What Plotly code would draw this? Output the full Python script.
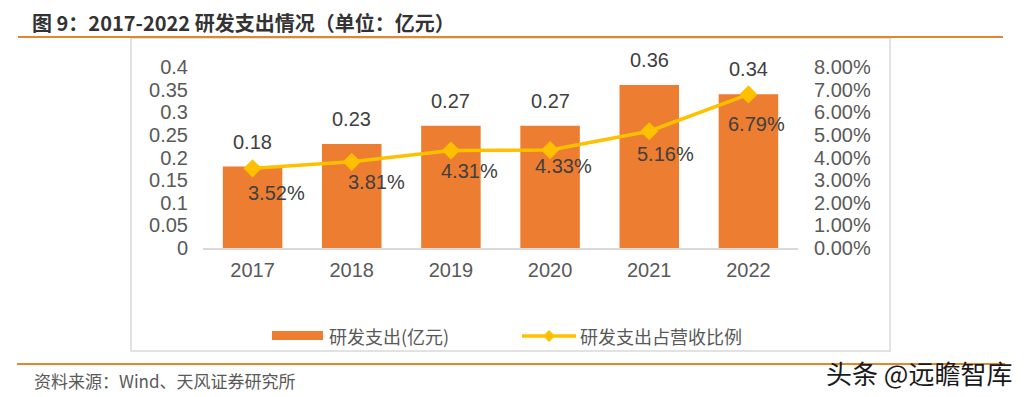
import plotly.graph_objects as go

# ---------------- data ----------------
years = ["2017", "2018", "2019", "2020", "2021", "2022"]
rd_spend = [0.18, 0.23, 0.27, 0.27, 0.36, 0.34]          # 亿元
rd_ratio = [0.0352, 0.0381, 0.0431, 0.0433, 0.0516, 0.0679]  # 占营收比例
bar_labels = ["0.18", "0.23", "0.27", "0.27", "0.36", "0.34"]
ratio_labels = ["3.52%", "3.81%", "4.31%", "4.33%", "5.16%", "6.79%"]

# label offsets (pixels) for the percentage labels, as placed in the reference
ratio_dx = [24, 25, 19, 13, 16, 8]
ratio_dy = [25, 20, 21, 16, 23, 30]

title_text = "图 9：2017-2022 研发支出情况（单位：亿元）"
legend_bar = "研发支出(亿元)"
legend_line = "研发支出占营收比例"
source_text = "资料来源：Wind、天风证券研究所"
watermark = "头条 @远瞻智库"

# ---------------- layout geometry ----------------
PAGE_OFF = 8                    # default body margin of the html page
W, H = 1025 - PAGE_OFF, 397 - PAGE_OFF
L, R, T, B = 203, 798, 67, 248  # plot area in page pixels


def px(x):
    return (x - L) / (R - L)


def py(y):
    return (B - y) / (B - T)


BAR = "#ED7D31"
LINE = "#FFC000"
TICK = "#595959"
LAB = "#404040"
NUMFONT = "Liberation Sans, Arial, sans-serif"
CJK = "Noto Sans CJK SC"

fig = go.Figure()
fig.add_trace(go.Bar(
    x=years, y=rd_spend, marker=dict(color=BAR, line=dict(width=0)),
    name=legend_bar, showlegend=False, hoverinfo="skip",
))
fig.add_trace(go.Scatter(
    x=years, y=rd_ratio, yaxis="y2", mode="lines+markers",
    line=dict(color=LINE, width=3.5),
    marker=dict(symbol="diamond", size=14, color=LINE),
    name=legend_line, showlegend=False, hoverinfo="skip",
))

annotations = []
# on a category axis, annotations are positioned by category index
for i, (v, t) in enumerate(zip(rd_spend, bar_labels)):
    annotations.append(dict(
        x=i, y=v, xref="x", yref="y", text=t, showarrow=False,
        yanchor="bottom", yshift=12,
        font=dict(family=NUMFONT, size=20, color=LAB),
    ))
for i, (v, t, dx, dy) in enumerate(zip(rd_ratio, ratio_labels, ratio_dx, ratio_dy)):
    annotations.append(dict(
        x=i, y=v, xref="x", yref="y2", text=t, showarrow=False,
        xshift=dx, yshift=-dy,
        font=dict(family=NUMFONT, size=20, color=LAB),
    ))

# title / legend / source / watermark
annotations += [
    dict(x=px(31), y=py(22.5), xref="paper", yref="paper", text="<b>" + title_text + "</b>",
         showarrow=False, xanchor="left", yanchor="middle", borderpad=0,
         font=dict(family=CJK, size=20, color="#333333")),
    dict(x=px(327), y=py(336), xref="paper", yref="paper", text=legend_bar,
         showarrow=False, xanchor="left", yanchor="middle",
         font=dict(family=CJK, size=18, color=TICK)),
    dict(x=px(578), y=py(336), xref="paper", yref="paper", text=legend_line,
         showarrow=False, xanchor="left", yanchor="middle",
         font=dict(family=CJK, size=18, color=TICK)),
    dict(x=px(32), y=py(380), xref="paper", yref="paper", text=source_text,
         showarrow=False, xanchor="left", yanchor="middle",
         font=dict(family=CJK, size=17, color=TICK)),
    dict(x=px(1014), y=py(372), xref="paper", yref="paper", text=watermark,
         showarrow=False, xanchor="right", yanchor="middle",
         font=dict(family=CJK, size=26, color="#1a1a1a")),
]

shapes = [
    # chart frame
    dict(type="rect", xref="paper", yref="paper", x0=px(131), x1=px(890), y0=py(38), y1=py(351),
         line=dict(color="#D9D9D9", width=1.5), fillcolor="rgba(0,0,0,0)", layer="below"),
    # top orange rule
    dict(type="line", xref="paper", yref="paper", x0=px(18), x1=px(1003), y0=py(37), y1=py(37),
         line=dict(color="#E4862F", width=2)),
    # bottom orange rule
    dict(type="line", xref="paper", yref="paper", x0=px(17), x1=px(1005), y0=py(364), y1=py(364),
         line=dict(color="#E4862F", width=2)),
    # legend: bar swatch
    dict(type="rect", xref="paper", yref="paper", x0=px(272), x1=px(323), y0=py(331), y1=py(340),
         line=dict(width=0), fillcolor=BAR),
    # legend: line swatch
    dict(type="line", xref="paper", yref="paper", x0=px(522), x1=px(576), y0=py(336), y1=py(336),
         line=dict(color=LINE, width=3.5)),
    dict(type="path", xref="paper", yref="paper",
         path=f"M {px(543)},{py(336)} L {px(549)},{py(330)} L {px(555)},{py(336)} L {px(549)},{py(342)} Z",
         line=dict(width=0), fillcolor=LINE),
]

fig.update_layout(
    width=W, height=H,
    margin=dict(l=L - PAGE_OFF, r=W - (R - PAGE_OFF), t=T - PAGE_OFF, b=H - (B - PAGE_OFF), pad=0),
    paper_bgcolor="white", plot_bgcolor="white",
    bargap=0.4,
    showlegend=False,
    xaxis=dict(
        type="category", range=[-0.5, len(years) - 0.5],
        showgrid=False, zeroline=False,
        showline=True, linecolor="#D9D9D9", linewidth=1.5,
        ticks="", ticklabelstandoff=3,
        tickfont=dict(family=NUMFONT, size=20, color=TICK),
    ),
    yaxis=dict(
        range=[0, 0.4], dtick=0.05, tick0=0, showgrid=False, zeroline=False,
        showline=False, ticks="", ticklabelstandoff=14,
        tickfont=dict(family=NUMFONT, size=20, color=TICK),
    ),
    yaxis2=dict(
        range=[0, 0.08], dtick=0.01, tick0=0, tickformat=".2%",
        overlaying="y", side="right", showgrid=False, zeroline=False,
        showline=False, ticks="", ticklabelstandoff=15,
        tickfont=dict(family=NUMFONT, size=20, color=TICK),
    ),
    annotations=annotations,
    shapes=shapes,
)

fig.write_html("out.html")
